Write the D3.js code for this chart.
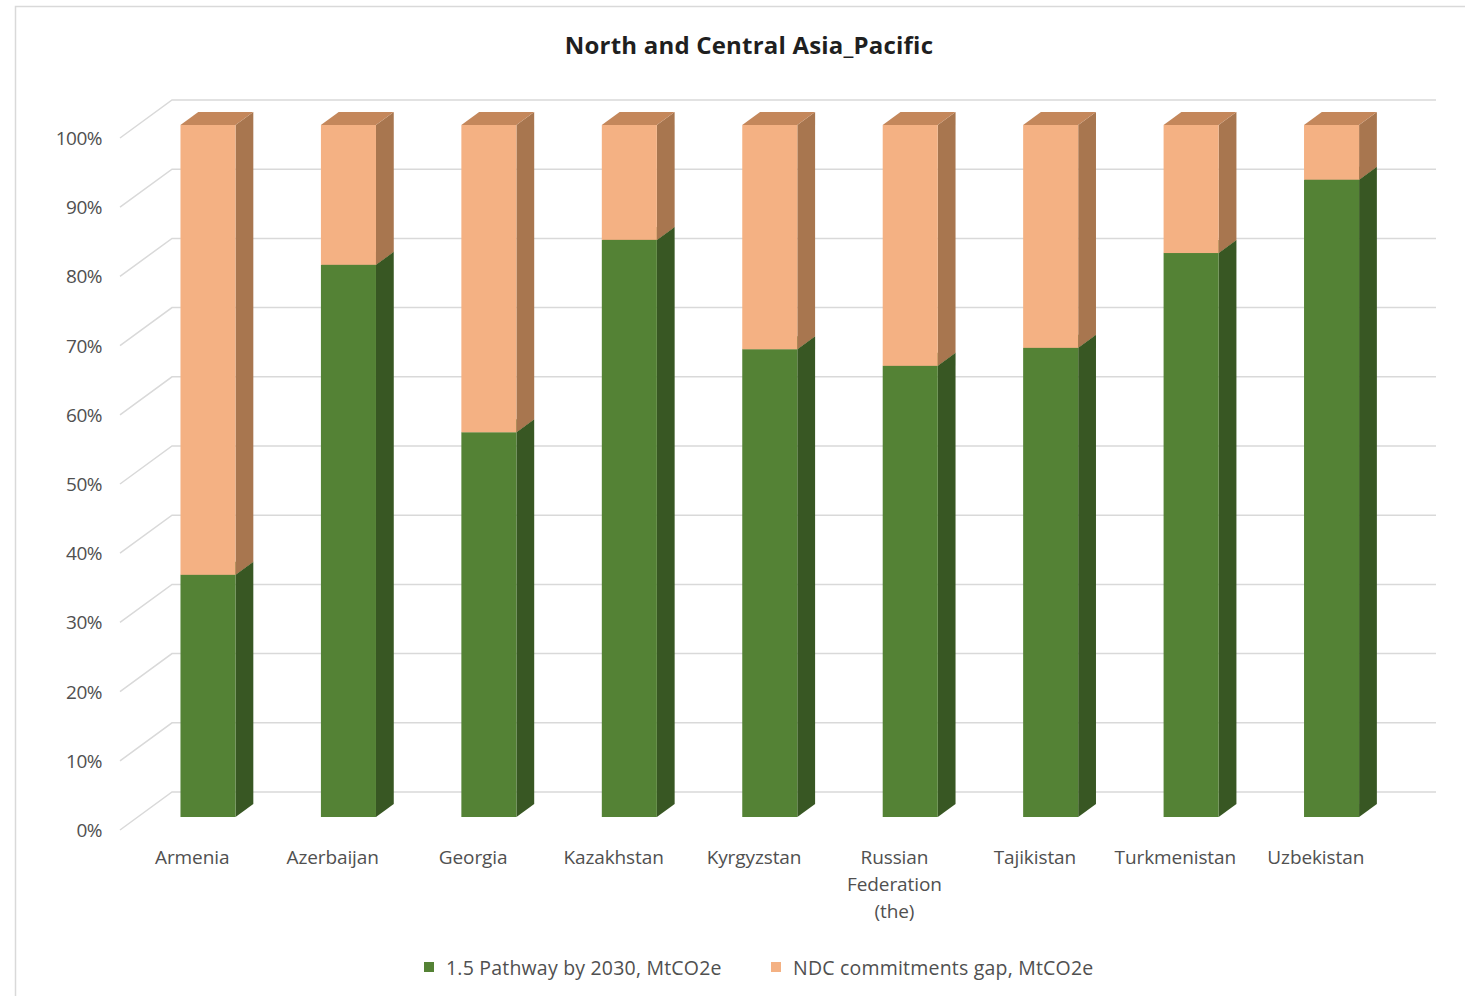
<!DOCTYPE html>
<html>
<head>
<meta charset="utf-8">
<script src="https://cdn.jsdelivr.net/npm/d3@7"></script>
<style>
  html, body { margin: 0; padding: 0; background: #fff; }
  svg { display: block; font-family: "Open Sans", "Noto Sans", sans-serif; }
</style>
</head>
<body>
<svg id="chart" width="1465" height="996"></svg>
<script>
// Share of each country's 2030 emissions: 1.5°C pathway vs. remaining NDC gap
const categories = ["Armenia", "Azerbaijan", "Georgia", "Kazakhstan", "Kyrgyzstan",
                    "Russian Federation (the)", "Tajikistan", "Turkmenistan", "Uzbekistan"];
const categoryLines = [["Armenia"], ["Azerbaijan"], ["Georgia"], ["Kazakhstan"], ["Kyrgyzstan"],
                       ["Russian", "Federation", "(the)"], ["Tajikistan"], ["Turkmenistan"], ["Uzbekistan"]];
const pathwayShare = [0.350, 0.798, 0.556, 0.834, 0.676, 0.652, 0.678, 0.815, 0.921];
const gapShare = pathwayShare.map(v => 1 - v);
const seriesNames = ["1.5 Pathway by 2030, MtCO2e", "NDC commitments gap, MtCO2e"];
const tickValues = [0, 0.1, 0.2, 0.3, 0.4, 0.5, 0.6, 0.7, 0.8, 0.9, 1.0];

// face colours: front, side, top
const palette = [
  { front: "#548235", side: "#385723", top: "#446d2b" },
  { front: "#f4b183", side: "#a8764f", top: "#c4875b" }
];

const svg = d3.select("#chart");

// chart frame
svg.append("path")
  .attr("d", "M15.5,996 V6.5 H1465")
  .attr("fill", "none").attr("stroke", "#d9d9d9").attr("stroke-width", 1.5);

// title
svg.append("text")
  .attr("x", 749).attr("y", 44)
  .attr("text-anchor", "middle").attr("dominant-baseline", "central")
  .attr("font-size", 24).attr("font-weight", 700).attr("letter-spacing", 0.2).attr("fill", "#1f1f1f")
  .text("North and Central Asia_Pacific");

// front plane scales; depth vector moves a point back toward the wall
const x = d3.scaleBand().domain(categories).range([120, 1384]).padding(0);
const y = d3.scaleLinear().domain([0, 1]).range([830, 138]);
const depth = { dx: 52, dy: -38 };
const barFrontDepth = 0.342, barBackDepth = 0.684;
const barW = x.bandwidth() * 0.392;

// gridlines: floor-side diagonal plus back wall line
const grid = svg.append("g").attr("stroke", "#d9d9d9").attr("stroke-width", 1.5).attr("fill", "none");
tickValues.forEach(v => {
  const y0 = y(v);
  grid.append("path")
    .attr("d", `M${x.range()[0]},${y0} L${x.range()[0] + depth.dx},${y0 + depth.dy} L${x.range()[1] + depth.dx},${y0 + depth.dy}`);
});

// y tick labels
const fmt = d3.format(".0%");
svg.append("g").selectAll("text").data(tickValues).join("text")
  .attr("x", 102).attr("y", d => y(d))
  .attr("text-anchor", "end").attr("dominant-baseline", "central")
  .attr("font-size", 19).attr("letter-spacing", -0.5).attr("fill", "#505050")
  .text(d => fmt(d));

// stacked 3D columns
const stacks = categories.map((c, i) => [
  { c, lo: 0, hi: pathwayShare[i], s: 0 },
  { c, lo: pathwayShare[i], hi: pathwayShare[i] + gapShare[i], s: 1 }
]);

const bars = svg.append("g");
stacks.forEach(stack => {
  stack.forEach(seg => {
    const fx = x(seg.c) + (x.bandwidth() - barW) / 2 + depth.dx * barFrontDepth;
    const fy0 = y(seg.lo) + depth.dy * barFrontDepth;
    const fy1 = y(seg.hi) + depth.dy * barFrontDepth;
    const ddx = depth.dx * (barBackDepth - barFrontDepth);
    const ddy = depth.dy * (barBackDepth - barFrontDepth);
    const col = palette[seg.s];
    const g = bars.append("g");
    // side face
    g.append("path")
      .attr("d", `M${fx + barW},${fy0} L${fx + barW + ddx},${fy0 + ddy} L${fx + barW + ddx},${fy1 + ddy} L${fx + barW},${fy1} Z`)
      .attr("fill", col.side);
    // top face
    g.append("path")
      .attr("d", `M${fx},${fy1} L${fx + ddx},${fy1 + ddy} L${fx + barW + ddx},${fy1 + ddy} L${fx + barW},${fy1} Z`)
      .attr("fill", col.top);
    // front face
    g.append("rect")
      .attr("x", fx).attr("y", fy1)
      .attr("width", barW).attr("height", fy0 - fy1)
      .attr("fill", col.front);
  });
});

// category labels
const catG = svg.append("g");
categories.forEach((c, i) => {
  const cx = x(c) + x.bandwidth() / 2 + 2;
  const t = catG.append("text")
    .attr("x", cx)
    .attr("y", 857)
    .attr("text-anchor", "middle").attr("dominant-baseline", "central")
    .attr("font-size", 19).attr("letter-spacing", -0.1).attr("fill", "#505050");
  categoryLines[i].forEach((line, j) => {
    t.append("tspan").attr("x", cx).attr("dy", j === 0 ? 0 : 27).text(line);
  });
});

// legend
const legend = svg.append("g");
const legendX = [424, 771];
seriesNames.forEach((name, i) => {
  legend.append("rect")
    .attr("x", legendX[i]).attr("y", 962).attr("width", 10).attr("height", 10)
    .attr("fill", palette[i].front);
  legend.append("text")
    .attr("x", legendX[i] + 22).attr("y", 967)
    .attr("dominant-baseline", "central")
    .attr("font-size", 19.5).attr("letter-spacing", 0.2).attr("fill", "#505050")
    .text(name);
});
</script>
</body>
</html>
